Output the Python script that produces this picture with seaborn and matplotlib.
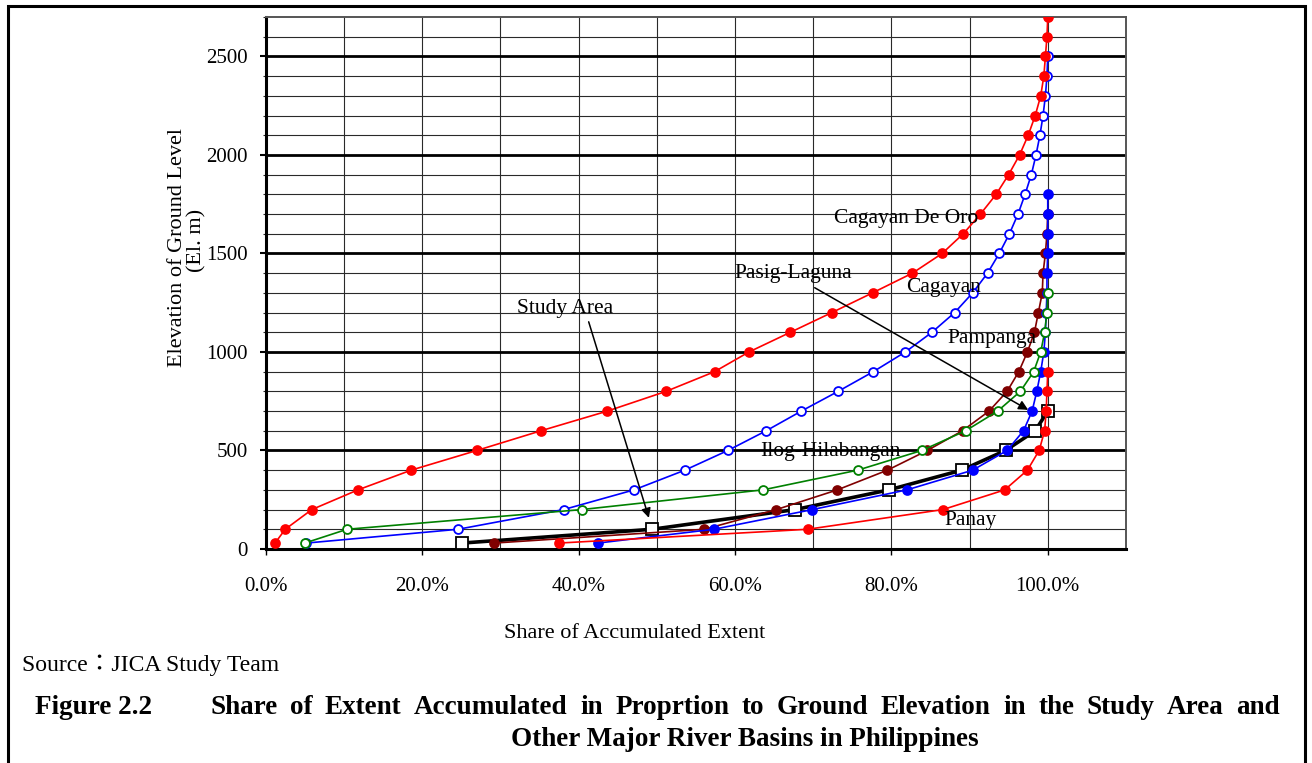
import numpy as np
import pandas as pd
import matplotlib
matplotlib.use("Agg")
import matplotlib.pyplot as plt
import matplotlib.ticker as mticker
from matplotlib.patches import Rectangle
import seaborn as sns

# Elevation levels (m) at which the accumulated extent share is tabulated
elev_levels = [30] + list(range(100, 2800, 100))

# Accumulated share of basin extent (fraction) for each basin, by elevation
cagayan_de_oro = [0.012, 0.025, 0.059, 0.118, 0.186, 0.270, 0.352, 0.437, 0.512, 0.574,
                  0.618, 0.671, 0.724, 0.776, 0.827, 0.865, 0.892, 0.914, 0.934, 0.950,
                  0.964, 0.975, 0.984, 0.991, 0.995, 0.997, 0.999, 1.000]
cagayan = [0.052, 0.246, 0.381, 0.471, 0.536, 0.591, 0.640, 0.685, 0.732, 0.777,
           0.818, 0.852, 0.881, 0.904, 0.923, 0.938, 0.951, 0.962, 0.971, 0.979,
           0.985, 0.990, 0.994, 0.997, 0.999, 1.000]
pasig_laguna = [0.425, 0.573, 0.699, 0.820, 0.904, 0.948, 0.969, 0.980, 0.986, 0.991,
                0.995, 0.997, 0.998, 0.999, 0.999, 1.000, 1.000, 1.000, 1.000]
pampanga = [0.050, 0.104, 0.404, 0.636, 0.757, 0.839, 0.895, 0.936, 0.965, 0.982,
            0.991, 0.996, 0.999, 1.000]
ilog_hilabangan = [0.292, 0.561, 0.653, 0.731, 0.795, 0.846, 0.891, 0.925, 0.948, 0.963,
                   0.974, 0.983, 0.988, 0.993, 0.994, 0.997, 0.999, 1.000]
panay = [0.375, 0.693, 0.866, 0.945, 0.974, 0.989, 0.996, 0.998, 0.999, 1.000]
study_area = [0.251, 0.494, 0.677, 0.797, 0.890, 0.946, 0.984, 1.000]

x_tick_values = [0.0, 0.2, 0.4, 0.6, 0.8, 1.0]
y_tick_values = [0, 500, 1000, 1500, 2000, 2500]

caption_number = "Figure 2.2"
caption_line1 = "Share of Extent Accumulated in Proprtion to Ground Elevation in the Study Area and"
caption_line2 = "Other Major River Basins in Philippines"

RED, BLUE, GREEN, MAROON = "#FF0000", "#0000FF", "#008000", "#800000"

# (name, values, line colour, marker, marker face, line width, marker size)
series = [
    ("Study Area", study_area, "black", "s", "white", 2.6, 8.0),
    ("Cagayan", cagayan, BLUE, "o", "white", 1.2, 6.4),
    ("Ilog-Hilabangan", ilog_hilabangan, MAROON, "o", MAROON, 1.2, 6.4),
    ("Pasig-Laguna", pasig_laguna, BLUE, "o", BLUE, 1.2, 6.4),
    ("Pampanga", pampanga, GREEN, "o", "white", 1.2, 6.4),
    ("Panay", panay, RED, "o", RED, 1.2, 6.4),
    ("Cagayan De Oro", cagayan_de_oro, RED, "o", RED, 1.2, 6.4),
]

sns.set_theme(style="white")
plt.rcParams["font.family"] = ["Liberation Serif", "Noto Sans CJK JP", "DejaVu Sans"]
plt.rcParams["text.color"] = "black"
plt.rcParams["axes.labelcolor"] = "black"

W, H = 1312, 763
fig = plt.figure(figsize=(W / 100, H / 100), dpi=100)
ax = fig.add_axes([0.2025, 0.2805, 0.6557, 0.6972])

for name, vals, color, marker, face, lw, ms in series:
    df = pd.DataFrame({"share": vals, "elevation": elev_levels[:len(vals)]})
    sns.lineplot(data=df, x="share", y="elevation", ax=ax, estimator=None, sort=False,
                 color=color, linewidth=lw, marker=marker, markersize=ms,
                 markerfacecolor=face, markeredgecolor=color, markeredgewidth=1.3,
                 legend=False, zorder=3)

ax.set_xlim(0, 1.1)
ax.set_ylim(0, 2700)

# Grid: thin lines every 10 % / 100 m, heavy lines every 500 m
ax.xaxis.set_major_locator(mticker.FixedLocator(x_tick_values))
ax.xaxis.set_minor_locator(mticker.MultipleLocator(0.1))
ax.yaxis.set_major_locator(mticker.FixedLocator(y_tick_values))
ax.yaxis.set_minor_locator(mticker.MultipleLocator(100))
ax.xaxis.set_major_formatter(mticker.FuncFormatter(lambda v, p: f"{v * 100:.1f}%"))

for xv in np.arange(0.1, 1.05, 0.1):
    ax.axvline(xv, color="#2a2a2a", lw=0.8, zorder=1)
for yv in range(100, 2700, 100):
    if yv % 500 == 0:
        ax.axhline(yv, color="black", lw=2.0, zorder=1.5)
    else:
        ax.axhline(yv, color="#2a2a2a", lw=0.8, zorder=1)

ax.grid(False)
ax.tick_params(axis="x", which="major", length=4, width=1, pad=16, labelsize=15,
               direction="out", bottom=True, colors="black")
ax.tick_params(axis="x", which="minor", length=0)
ax.tick_params(axis="y", which="major", length=4, width=1.5, pad=9, labelsize=15,
               direction="out", left=True, colors="black")
ax.tick_params(axis="y", which="minor", length=2, width=0.8, direction="out", left=True)

for side in ("left", "bottom"):
    ax.spines[side].set_color("black")
    ax.spines[side].set_linewidth(2.2)
for side in ("right", "top"):
    ax.spines[side].set_color("#555555")
    ax.spines[side].set_linewidth(1.4)
ax.set_xlabel("")
ax.set_ylabel("")

# Basin labels and leader arrows
label_fs = 15.5
ax.text(0.819, 1677, "Cagayan De Oro", ha="center", va="center", fontsize=label_fs, zorder=5)
ax.text(0.675, 1397, "Pasig-Laguna", ha="center", va="center", fontsize=label_fs, zorder=5)
ax.text(0.383, 1220, "Study Area", ha="center", va="center", fontsize=label_fs, zorder=5)
ax.text(0.867, 1326, "Cagayan", ha="center", va="center", fontsize=label_fs, zorder=5)
ax.text(0.929, 1067, "Pampanga", ha="center", va="center", fontsize=label_fs, zorder=5)
ax.text(0.7216, 493, "Ilog-Hilabangan", ha="center", va="center", fontsize=label_fs, zorder=5)
ax.text(0.9007, 147, "Panay", ha="center", va="center", fontsize=label_fs, zorder=5)

arrow_style = dict(arrowstyle="-|>", color="black", lw=1.1, mutation_scale=14,
                   shrinkA=0, shrinkB=0)
ax.annotate("", xy=(0.975, 706), xytext=(0.702, 1326), arrowprops=arrow_style, zorder=6)
ax.annotate("", xy=(0.490, 158), xytext=(0.413, 1153), arrowprops=arrow_style, zorder=6)

# Axis titles
fig.text(177 / W, 1 - 248 / H, "Elevation of Ground Level", rotation=90,
         ha="center", va="center", fontsize=16)
fig.text(197 / W, 1 - 240 / H, "(El. m)", rotation=90,
         ha="center", va="center", fontsize=16)
fig.text(635 / W, 1 - 633 / H, "Share of Accumulated Extent",
         ha="center", va="center", fontsize=16)

# Source note
fig.text(22 / W, 1 - 665 / H, "Source：JICA Study Team",
         ha="left", va="center", fontsize=17)

# Figure caption; the first line is justified between x = 210 and x = 1280 px
cap_fs = 19.5
fig.text(35 / W, 1 - 708 / H, caption_number, ha="left", va="center",
         fontsize=cap_fs, fontweight="bold")
renderer = fig.canvas.get_renderer()
words = caption_line1.split()
word_artists = [fig.text(0, 1 - 708 / H, w, ha="left", va="center",
                         fontsize=cap_fs, fontweight="bold") for w in words]
widths = [t.get_window_extent(renderer=renderer).width for t in word_artists]
line_left, line_right = 210.0, 1280.0
gap = (line_right - line_left - sum(widths)) / (len(words) - 1)
xpos = line_left
for t, wdt in zip(word_artists, widths):
    t.set_x(xpos / W)
    xpos += wdt + gap
fig.text(745 / W, 1 - 740 / H, caption_line2, ha="center", va="center",
         fontsize=cap_fs, fontweight="bold")

# Page frame (open at the bottom)
frame = Rectangle((7.7 / W, -0.05), (1305 - 7.7) / W, 0.05 + 1 - 5.7 / H,
                  transform=fig.transFigure, fill=False, edgecolor="black",
                  linewidth=2.2, clip_on=False)
fig.patches.append(frame)

fig.savefig("out.png", dpi=100, facecolor="white")
